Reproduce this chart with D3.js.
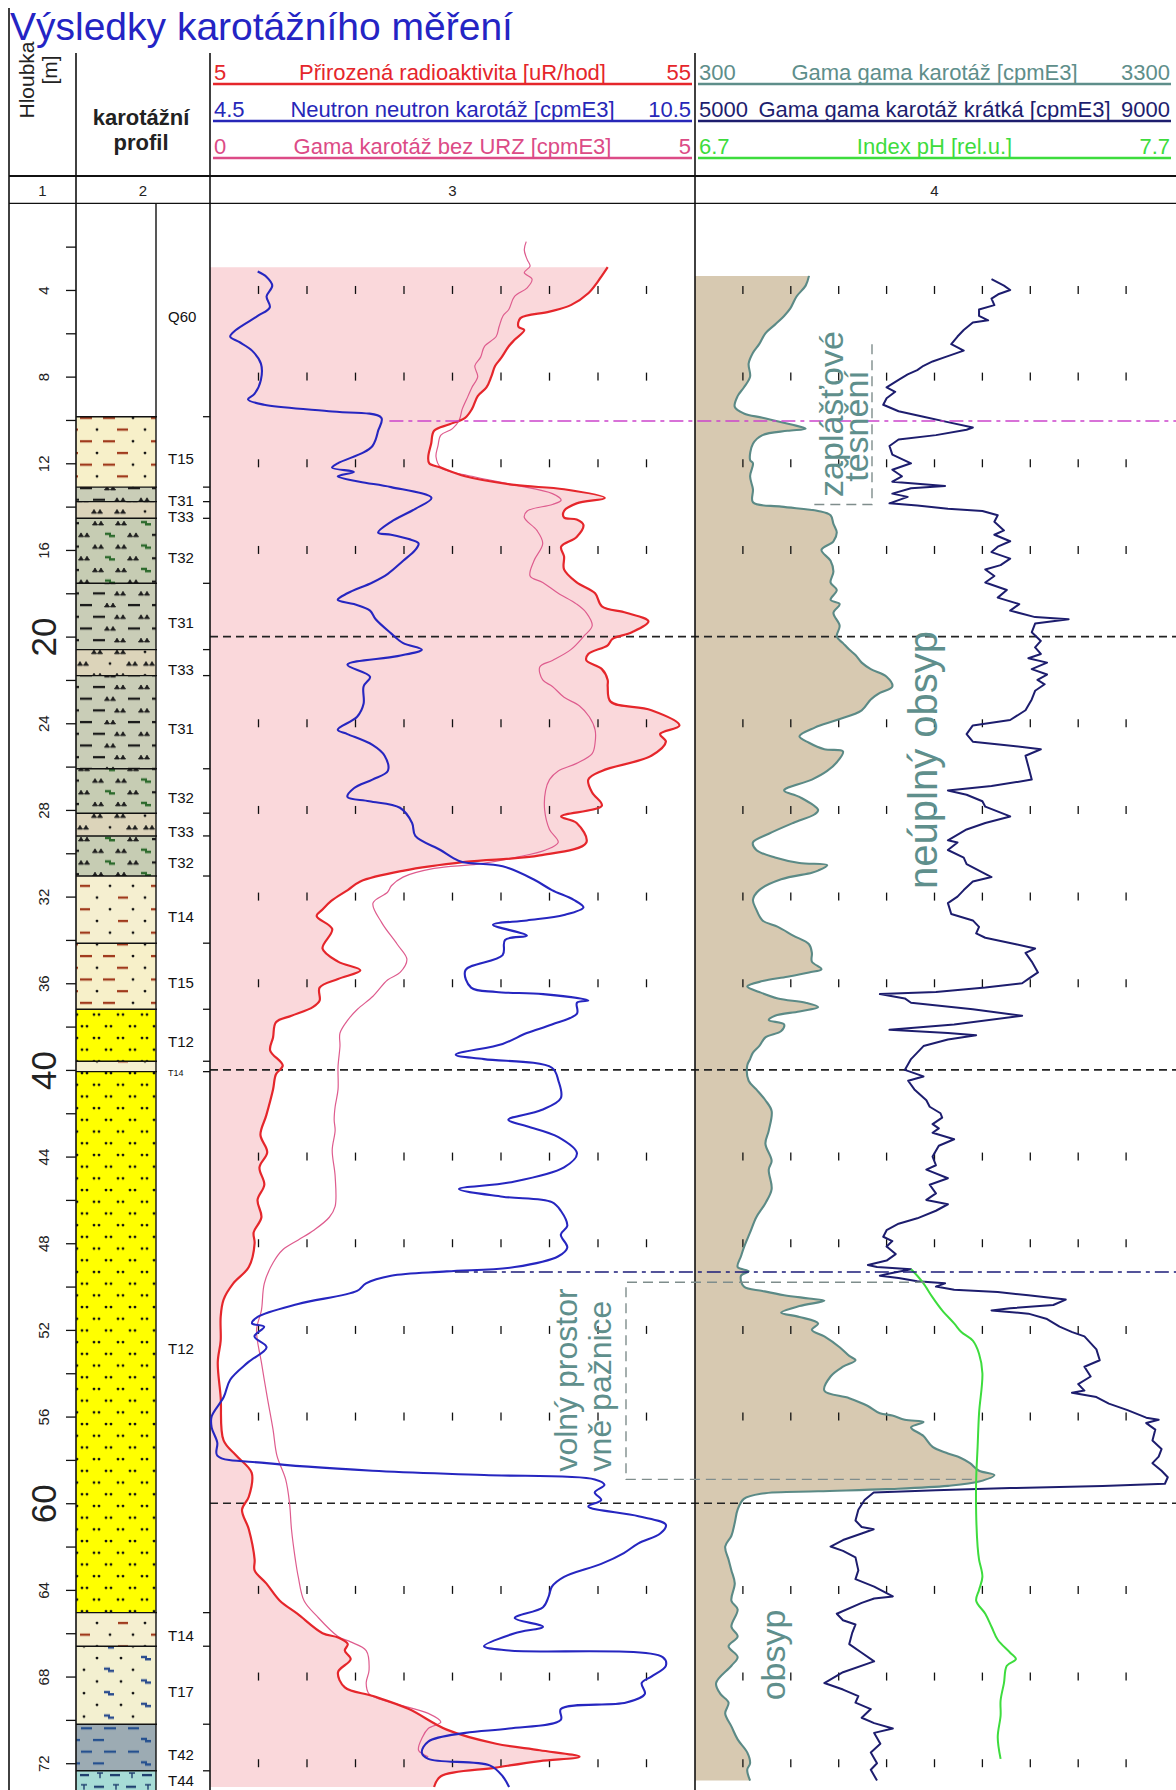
<!DOCTYPE html>
<html><head><meta charset="utf-8">
<script src="https://cdn.jsdelivr.net/npm/d3@7"></script>
<style>
body{margin:0;background:#fff}
svg{display:block}
text{font-family:"Liberation Sans",Arial,Helvetica,sans-serif}
</style>
</head><body>
<svg id="chart" width="1176" height="1790"></svg>
<script>
// ---------------- data ----------------
const depthTicks = d3.range(2, 73, 2);
const bigDepthLabels = [20, 40, 60];
const gridDepths = [4, 8, 12, 16, 24, 28, 32, 36, 44, 48, 52, 56, 64, 68, 72];
const markerDepths = [20, 40, 60];

// lithology column: layer tops, bases and codes
const lithTop  = [0, 9.85, 13.1, 13.77, 14.54, 17.54, 20.6, 21.8, 26.1, 28.15, 29.2, 31.05, 34.15, 37.2, 39.6, 40.08, 65.05, 66.6, 70.2, 72.35];
const lithBase = [9.85, 13.1, 13.77, 14.54, 17.54, 20.6, 21.8, 26.1, 28.15, 29.2, 31.05, 34.15, 37.2, 39.6, 40.08, 65.05, 66.6, 70.2, 72.35, 73.3];
const lithCode = ["Q60", "T15", "T31", "T33", "T32", "T31", "T33", "T31", "T32", "T33", "T32", "T14", "T15", "T12", "T14", "T12", "T14", "T17", "T42", "T44"];

// log scales shown in the header
const track3Logs = [
  {key: "radio",   label: "Přirozená radioaktivita [uR/hod]", min: 5,   max: 55,   color: "#e5262b"},
  {key: "neutron", label: "Neutron neutron karotáž [cpmE3]",  min: 4.5, max: 10.5, color: "#2727b8"},
  {key: "gamma",   label: "Gama karotáž bez URZ [cpmE3]",     min: 0,   max: 5,    color: "#dc4b86"}
];
const track4Logs = [
  {key: "gg",      label: "Gama gama karotáž [cpmE3]",        min: 300,  max: 3300, color: "#5e8e8a"},
  {key: "ggs",     label: "Gama gama karotáž krátká [cpmE3]", min: 5000, max: 9000, color: "#1d1d6e"},
  {key: "ph",      label: "Index pH [rel.u.]",                min: 6.7,  max: 7.7,  color: "#3ddc3d"}
];

// [depth m, value]
const radioactivity = [[2.95,46.0],[3.6,45.0],[4.15,44.0],[4.7,42.2],[5.0,40.0],[5.3,37.0],[5.7,36.8],[5.85,37.4],[6.3,36.4],[6.6,35.8],[7.15,35.0],[7.5,34.4],[8.0,34.0],[8.5,33.5],[8.9,32.6],[9.5,32.0],[9.9,31.3],[10.2,29.7],[10.5,28.1],[11.1,27.8],[11.7,27.5],[12.0,27.6],[12.2,28.8],[12.6,31.3],[13.0,36.4],[13.2,41.5],[13.6,45.7],[13.85,42.8],[14.2,41.5],[14.5,41.5],[14.6,42.8],[14.85,43.5],[15.4,42.8],[15.85,41.2],[16.3,41.5],[16.9,41.5],[17.5,42.8],[18.0,44.7],[18.6,45.4],[18.9,47.9],[19.3,50.2],[19.8,48.5],[20.1,46.5],[20.4,46.0],[20.8,44.0],[21.1,43.8],[21.5,45.4],[22.0,46.0],[22.3,46.0],[23.0,46.3],[23.4,50.5],[24.1,53.4],[24.5,51.4],[24.85,52.0],[25.5,50.5],[26.2,45.4],[26.6,44.0],[27.2,44.4],[27.8,45.4],[28.3,41.2],[28.6,42.8],[29.5,43.8],[30.1,39.0],[30.4,31.3],[30.8,25.0],[31.3,20.5],[31.7,19.2],[32.2,17.5],[32.6,16.6],[32.9,16.0],[33.5,17.6],[34.4,16.6],[35.0,18.2],[35.4,20.5],[35.8,18.2],[36.2,16.3],[36.8,16.3],[37.1,15.6],[37.5,13.4],[37.8,11.8],[38.5,11.5],[39.1,11.2],[39.8,12.5],[40.2,11.8],[40.9,11.5],[42.1,10.8],[43.0,10.2],[43.8,10.9],[44.5,10.1],[45.3,10.6],[46.0,9.9],[46.8,10.3],[47.5,9.5],[48.0,9.6],[49.1,9.0],[49.85,7.4],[50.6,6.4],[51.4,6.1],[52.5,6.1],[53.5,5.8],[55.1,6.1],[57.1,6.4],[57.8,7.7],[58.6,9.3],[59.7,9.0],[60.3,8.3],[61.2,9.0],[62.6,9.6],[63.1,9.6],[63.7,10.8],[64.5,12.2],[65.1,14.0],[66.0,16.6],[66.2,18.2],[66.5,19.2],[66.8,18.9],[67.2,19.5],[67.8,18.2],[68.5,18.9],[68.9,21.8],[69.5,25.5],[70.45,29.4],[71.1,34.5],[71.4,39.0],[71.7,43.1],[71.9,39.0],[72.2,34.5],[72.6,28.8],[73.1,28.1]];

const neutron = [[3.15,5.09],[3.4,5.20],[3.8,5.27],[4.3,5.20],[4.8,5.24],[5.2,5.09],[5.85,4.82],[6.15,4.75],[6.4,4.86],[6.8,5.02],[7.4,5.13],[8.15,5.13],[8.8,5.05],[9.05,4.97],[9.3,5.17],[9.6,5.97],[9.9,6.62],[10.5,6.58],[10.9,6.55],[11.2,6.51],[11.5,6.40],[12.0,6.08],[12.2,6.01],[12.4,6.28],[12.6,6.08],[12.85,6.35],[13.1,6.74],[13.6,7.24],[14.1,7.04],[14.7,6.74],[15.2,6.58],[15.3,6.74],[15.5,6.96],[15.7,7.08],[16.0,7.04],[16.5,6.89],[17.1,6.70],[17.5,6.51],[18.0,6.20],[18.3,6.08],[18.5,6.28],[18.8,6.48],[19.2,6.55],[19.85,6.74],[20.3,6.89],[20.6,7.12],[20.9,6.82],[21.3,6.20],[21.85,6.48],[22.3,6.40],[23.1,6.40],[23.7,6.32],[24.3,6.08],[24.5,6.20],[25.0,6.51],[25.5,6.66],[26.2,6.70],[26.6,6.51],[27.0,6.28],[27.4,6.20],[27.6,6.47],[27.9,6.85],[28.6,7.00],[29.2,7.04],[29.85,7.35],[30.2,7.50],[30.4,7.62],[30.6,8.12],[31.2,8.50],[31.7,8.73],[32.15,9.00],[32.5,9.12],[32.85,8.88],[33.1,8.42],[33.3,8.00],[33.8,8.42],[34.0,8.15],[34.7,8.12],[35.4,7.66],[36.2,7.73],[36.4,8.04],[36.5,8.62],[36.8,9.18],[36.9,9.04],[37.4,9.04],[37.9,8.73],[38.3,8.42],[38.8,8.12],[39.3,7.54],[39.5,7.89],[39.9,8.73],[40.5,8.81],[41.3,8.84],[41.85,8.60],[42.3,8.19],[42.6,8.42],[43.1,8.81],[43.85,9.04],[44.5,8.88],[45.2,8.20],[45.5,7.58],[45.85,8.12],[46.1,8.73],[46.5,8.84],[47.2,8.92],[47.6,8.84],[48.2,8.92],[48.6,8.81],[49.1,8.27],[49.3,7.43],[49.5,6.74],[49.85,6.43],[50.2,6.32],[50.8,5.59],[51.4,5.09],[51.7,5.02],[51.85,5.17],[52.3,5.05],[52.8,5.20],[53.5,4.97],[54.3,4.75],[55.1,4.67],[56.0,4.52],[56.5,4.52],[57.2,4.59],[57.8,4.59],[58.15,5.20],[58.5,6.51],[58.7,7.89],[58.9,9.26],[59.15,9.38],[59.5,9.26],[59.85,9.34],[60.15,9.18],[60.6,9.80],[61.0,10.14],[61.4,10.07],[61.85,9.80],[62.3,9.62],[62.8,9.34],[63.4,8.88],[63.85,8.73],[64.3,8.69],[64.8,8.62],[65.3,8.27],[65.7,8.62],[66.0,8.27],[66.6,7.89],[66.8,8.20],[67.1,10.10],[67.5,10.14],[68.0,9.96],[68.3,9.84],[68.8,9.88],[69.2,9.65],[69.5,8.84],[70.0,8.84],[70.4,8.20],[70.6,7.66],[71.0,7.20],[71.5,7.12],[71.8,7.20],[72.1,7.96],[72.6,8.12],[73.1,8.20]];

const gammaNoURZ = [[1.77,3.26],[2.15,3.24],[2.6,3.27],[2.9,3.30],[3.2,3.24],[3.5,3.32],[3.9,3.27],[4.3,3.14],[4.9,3.08],[5.2,3.02],[5.7,2.98],[6.15,2.95],[6.6,2.83],[7.1,2.79],[7.5,2.73],[8.0,2.76],[8.5,2.70],[8.9,2.66],[9.5,2.60],[10.0,2.57],[10.4,2.50],[10.7,2.38],[11.2,2.35],[11.7,2.33],[12.2,2.38],[12.6,2.70],[13.0,3.14],[13.4,3.53],[13.7,3.62],[13.9,3.53],[14.2,3.27],[14.5,3.24],[15.1,3.37],[15.7,3.43],[16.5,3.34],[17.2,3.30],[17.5,3.43],[18.0,3.59],[18.5,3.78],[18.9,3.88],[19.5,3.94],[20.0,3.85],[20.6,3.72],[21.1,3.53],[21.4,3.40],[22.0,3.43],[22.3,3.53],[22.8,3.65],[23.2,3.81],[23.7,3.91],[24.3,3.97],[24.9,3.97],[25.4,3.94],[25.85,3.78],[26.2,3.59],[26.6,3.50],[27.1,3.46],[28.0,3.45],[28.9,3.50],[29.5,3.59],[29.85,3.46],[30.2,3.14],[30.5,2.76],[30.7,2.31],[31.1,1.99],[31.5,1.87],[31.8,1.83],[32.3,1.68],[33.2,1.77],[34.2,1.93],[34.9,2.03],[35.5,1.96],[35.85,1.83],[36.6,1.68],[37.2,1.52],[37.7,1.42],[38.3,1.34],[38.9,1.34],[39.85,1.32],[40.9,1.32],[41.7,1.29],[42.3,1.28],[42.8,1.29],[43.7,1.26],[44.9,1.29],[46.3,1.29],[46.8,1.23],[47.4,1.07],[47.85,0.91],[48.3,0.75],[48.9,0.65],[49.85,0.56],[51.1,0.53],[52.0,0.48],[53.5,0.53],[55.1,0.59],[56.6,0.65],[57.8,0.69],[58.9,0.78],[60.0,0.82],[61.2,0.84],[62.6,0.88],[63.4,0.91],[64.5,0.97],[65.2,1.10],[66.15,1.32],[66.4,1.45],[66.8,1.61],[67.7,1.64],[68.3,1.61],[68.8,1.64],[69.2,1.87],[69.7,2.25],[70.1,2.38],[70.4,2.25],[70.8,2.19],[71.4,2.15],[71.7,2.25]];

const gammaGamma = [[3.35,1014],[3.8,993],[4.3,936],[4.85,897],[5.2,858],[5.6,801],[6.0,741],[6.5,702],[6.9,663],[7.4,636],[8.0,645],[8.5,606],[8.9,567],[9.4,549],[9.7,606],[9.9,723],[10.2,897],[10.4,993],[10.5,879],[10.7,723],[11.1,663],[11.85,645],[12.0,663],[12.6,645],[13.2,663],[13.8,663],[14.0,840],[14.2,1071],[14.4,1149],[14.8,1167],[15.2,1188],[15.6,1167],[16.0,1092],[16.5,1149],[17.0,1167],[17.5,1149],[17.85,1188],[18.3,1149],[18.5,1206],[18.9,1167],[19.5,1206],[20.0,1188],[20.3,1227],[20.6,1266],[20.85,1305],[21.2,1344],[21.5,1401],[21.85,1500],[22.3,1536],[22.6,1458],[22.9,1401],[23.4,1344],[23.85,1188],[24.2,1050],[24.6,954],[24.9,1014],[25.2,1110],[25.3,1227],[25.8,1188],[26.2,1128],[26.6,1032],[27.1,858],[27.4,954],[28.0,1071],[28.2,1050],[28.6,915],[29.1,762],[29.5,663],[29.85,684],[30.2,801],[30.45,954],[30.55,1128],[30.8,1071],[30.9,1032],[31.2,840],[31.7,702],[32.15,663],[32.6,684],[33.1,723],[33.4,819],[33.8,915],[34.2,1014],[34.6,1032],[35.0,1032],[35.35,1092],[35.5,1014],[35.7,879],[35.9,723],[36.15,627],[36.4,702],[36.7,819],[36.9,993],[37.1,1071],[37.3,954],[37.5,801],[37.7,762],[37.9,858],[38.2,840],[38.5,741],[38.9,702],[39.2,663],[39.5,645],[39.8,627],[40.5,636],[40.9,684],[41.4,741],[41.9,780],[42.8,762],[43.4,741],[44.2,780],[44.6,762],[45.5,780],[46.15,741],[46.8,684],[47.5,645],[48.2,606],[48.6,588],[49.1,567],[49.3,636],[49.5,588],[50.0,606],[50.2,723],[50.4,858],[50.55,1014],[50.65,1110],[50.9,954],[51.2,840],[51.4,954],[51.7,1071],[52.0,1032],[52.3,1110],[52.8,1206],[53.2,1266],[53.4,1305],[53.7,1227],[54.15,1149],[54.8,1110],[55.15,1266],[55.5,1380],[55.85,1458],[55.95,1536],[56.15,1614],[56.25,1731],[56.5,1653],[56.9,1731],[57.4,1788],[57.7,1884],[57.9,1962],[58.15,2022],[58.5,2079],[58.7,2175],[59.0,2079],[59.2,1884],[59.35,1500],[59.45,1071],[59.55,723],[59.8,606],[60.3,567],[60.9,549],[61.5,528],[62.0,489],[62.6,510],[63.1,528],[63.7,549],[64.5,528],[64.9,567],[65.7,528],[66.15,567],[66.6,510],[67.1,567],[67.5,528],[68.3,432],[68.8,459],[69.2,510],[69.7,489],[70.3,528],[70.9,567],[71.5,627],[72.0,645],[72.3,627],[72.8,645]];

const gammaGammaShort = [[3.5,7476],[3.8,7580],[4.0,7632],[4.2,7532],[4.4,7476],[4.7,7500],[4.9,7372],[5.2,7372],[5.4,7448],[5.5,7320],[5.85,7244],[6.15,7192],[6.5,7140],[6.8,7244],[7.1,7088],[7.3,6984],[7.5,6908],[7.7,6856],[7.9,6776],[8.15,6700],[8.5,6600],[8.7,6672],[9.0,6600],[9.3,6572],[9.6,6700],[9.85,6908],[10.1,7112],[10.35,7320],[10.45,7268],[10.7,7012],[10.9,6700],[11.2,6624],[11.6,6648],[12.0,6804],[12.3,6648],[12.6,6728],[12.85,6648],[12.95,6856],[13.05,7088],[13.15,6804],[13.4,6648],[13.55,6776],[13.85,6624],[13.95,6856],[14.1,7112],[14.2,7400],[14.4,7528],[14.7,7500],[15.1,7580],[15.3,7500],[15.6,7632],[15.85,7528],[16.1,7476],[16.4,7632],[16.7,7552],[16.9,7424],[17.2,7500],[17.5,7424],[17.85,7604],[18.2,7528],[18.5,7708],[18.8,7632],[19.1,7840],[19.2,8120],[19.4,7840],[19.8,7812],[20.2,7888],[20.5,7840],[20.8,7888],[21.0,7784],[21.2,7940],[21.5,7812],[21.75,7940],[22.0,7860],[22.2,7920],[22.5,7840],[22.9,7812],[23.4,7760],[23.85,7632],[24.1,7320],[24.5,7268],[24.85,7320],[25.0,7580],[25.2,7888],[25.5,7760],[26.0,7784],[26.6,7812],[26.9,7476],[27.1,7112],[27.3,7268],[27.6,7400],[27.85,7424],[28.3,7632],[28.6,7424],[28.9,7268],[29.4,7112],[29.5,7192],[29.85,7112],[30.2,7244],[30.5,7268],[30.8,7372],[31.1,7476],[31.3,7320],[31.7,7244],[32.0,7192],[32.3,7112],[32.8,7140],[33.1,7320],[33.4,7372],[33.7,7348],[33.9,7424],[34.2,7680],[34.4,7840],[34.6,7760],[35.0,7812],[35.5,7864],[35.8,7784],[36.0,7732],[36.2,7424],[36.4,7012],[36.5,6544],[36.7,6752],[36.9,6804],[37.2,7320],[37.5,7732],[37.9,7164],[38.15,6624],[38.3,7112],[38.4,7348],[38.6,7112],[38.9,6908],[39.2,6856],[39.5,6804],[40.0,6752],[40.3,6908],[40.5,6780],[40.9,6832],[41.4,6932],[41.7,6960],[42.0,7050],[42.2,7064],[42.5,6984],[42.7,7036],[42.9,6984],[43.2,7164],[43.5,7036],[44.0,6984],[44.4,7012],[44.6,6932],[45.0,7112],[45.3,6960],[45.7,7012],[46.0,6932],[46.2,7112],[46.5,7012],[46.85,6856],[47.1,6700],[47.4,6600],[47.7,6572],[47.9,6648],[48.15,6600],[48.5,6676],[48.8,6600],[49.0,6444],[49.1,6520],[49.2,6804],[49.4,6624],[49.5,6544],[49.6,6700],[49.75,6856],[49.85,7088],[50.0,7012],[50.15,7164],[50.25,7528],[50.4,7784],[50.6,8096],[50.85,7992],[51.0,7632],[51.1,7476],[51.25,7784],[51.5,7940],[51.85,8044],[52.1,8150],[52.3,8252],[52.9,8352],[53.4,8380],[53.7,8252],[54.15,8304],[54.5,8200],[54.8,8252],[54.9,8148],[55.1,8352],[55.4,8456],[55.7,8612],[56.05,8768],[56.15,8872],[56.3,8768],[56.6,8844],[57.1,8820],[57.5,8896],[57.85,8872],[58.15,8820],[58.5,8896],[58.8,8948],[59.1,8924],[59.2,8404],[59.3,7632],[59.4,7012],[59.5,6492],[59.85,6416],[60.3,6364],[60.8,6340],[61.1,6392],[61.2,6492],[61.4,6392],[61.7,6236],[62.0,6132],[62.2,6236],[62.5,6340],[63.1,6364],[63.5,6340],[63.85,6496],[64.3,6652],[64.4,6496],[64.6,6392],[65.1,6184],[65.4,6236],[65.6,6340],[66.0,6312],[66.5,6288],[66.9,6392],[67.3,6496],[67.8,6236],[68.3,6080],[68.6,6236],[68.9,6364],[69.2,6340],[69.5,6468],[69.9,6392],[70.15,6496],[70.4,6652],[70.6,6496],[71.1,6548],[71.5,6468],[72.0,6520],[72.3,6468],[72.8,6520]];

const phIndex = [[49.2,7.151],[49.5,7.164],[49.85,7.177],[50.5,7.196],[51.1,7.216],[51.7,7.241],[52.1,7.256],[52.5,7.280],[53.1,7.293],[54.0,7.300],[55.85,7.293],[57.4,7.290],[58.9,7.287],[60.5,7.287],[62.0,7.290],[62.6,7.293],[63.4,7.300],[64.0,7.293],[64.5,7.287],[65.1,7.306],[65.7,7.319],[66.3,7.332],[66.9,7.358],[67.2,7.370],[67.5,7.351],[68.3,7.345],[69.1,7.338],[69.8,7.338],[70.8,7.332],[71.8,7.338]];

// depths of the interpretation marker lines
const cementTopDepth = 10.05;   // magenta dash-dot
const gravelTopDepth = 49.33;   // navy dash-dot

// ---------------- layout ----------------
const svg = d3.select("#chart");
const FONT = '"Liberation Sans", Arial, Helvetica, sans-serif';
const X = {left: 9, col1: 76, lith: 156, col2: 210, col3: 695, right: 1174};
const yS = d3.scaleLinear().domain([0, 73.25]).range([203.3, 1790.3]);

const scaleFor = (log, track) => d3.scaleLinear().domain([log.min, log.max])
  .range(track === 3 ? [X.col2, X.col3] : [X.col3, X.right]);
const sc = {};
track3Logs.forEach(l => sc[l.key] = scaleFor(l, 3));
track4Logs.forEach(l => sc[l.key] = scaleFor(l, 4));

// ---------------- lithology patterns ----------------
const defs = svg.append("defs");
const ROW = 11.7;
const patterns = {
  T15: {bg: "#f7f0c9", rows: [
    [["d",4,16,"#a03a1c"],["d",27,39,"#a03a1c"],["o",57],["d",75,81,"#a03a1c"]],
    [["o",21],["d",41,52,"#a03a1c"],["o",69],["d",-1,2,"#a03a1c"]]]},
  T14: {bg: "#f5efd0", rows: [
    [["d",4,14,"#a03a1c"],["o",34],["o",57],["d",75,81,"#a03a1c"]],
    [["o",21],["d",42,52,"#a03a1c"],["o",69]]]},
  T31: {bg: "#c9cdb7", rows: [
    [["d",4,16,"#1a1a1a"],["g",34],["d",52,64,"#1a1a1a"],["d",76,81,"#1a1a1a"]],
    [["d",-1,3,"#1a1a1a"],["d",17,29,"#1a1a1a"],["g",44],["g",68]]]},
  T32: {bg: "#c6ccb3", rows: [
    [["g",8],["b",34,"#2c6a2c"],["g",57],["d",76,81,"#1a1a1a"]],
    [["d",-1,3,"#1a1a1a"],["g",22],["g",45],["b",70,"#2c6a2c"]]]},
  T33: {bg: "#dcd4ba", rows: [
    [["g",21],["g",44],["o",69]],
    [["g",7],["o",34],["g",56],["g",73]]]},
  T12: {bg: "#ffff00", rows: [
    [["o",6],["o",11],["o",30],["o",35],["o",54],["o",59],["o",78]],
    [["o",1],["o",18],["o",23],["o",42],["o",47],["o",66],["o",71]]]},
  T17: {bg: "#f3f0d0", rows: [
    [["o",21],["o",45],["b",70,"#2b4d8f"]],
    [["o",8],["b",33,"#2b4d8f"],["o",57]]]},
  T42: {bg: "#9cabb3", rows: [
    [["d",5,16,"#25508f"],["d",28,40,"#25508f"],["d",52,63,"#25508f"]],
    [["d",-1,4,"#25508f"],["d",17,28,"#25508f"],["b",70,"#25508f"]]]},
  T44: {bg: "#a7dcd6", rows: [
    [["d",4,13,"#1f3f6f"],["t",24],["d",34,44,"#1f3f6f"],["t",56],["d",66,76,"#1f3f6f"]],
    [["t",8],["d",18,28,"#1f3f6f"],["t",40],["d",50,60,"#1f3f6f"],["t",72]]]}
};

Object.entries(patterns).forEach(([code, p]) => {
  const pat = defs.append("pattern").attr("id", "lith-" + code)
    .attr("patternUnits", "userSpaceOnUse")
    .attr("x", X.col1).attr("y", yS(0))
    .attr("width", X.lith - X.col1).attr("height", ROW * 2);
  pat.append("rect").attr("width", X.lith - X.col1).attr("height", ROW * 2).attr("fill", p.bg);
  p.rows.forEach((row, ri) => {
    const yy = 4 + ri * ROW;
    row.forEach(it => {
      const [kind, a, b, c] = it;
      if (kind === "d") {
        pat.append("line").attr("x1", a).attr("x2", b).attr("y1", yy).attr("y2", yy)
          .attr("stroke", c).attr("stroke-width", 2.3);
      } else if (kind === "o") {
        pat.append("circle").attr("cx", a).attr("cy", yy).attr("r", 1.4).attr("fill", "#111");
      } else if (kind === "g") {
        pat.append("path")
          .attr("d", `M${a-5},${yy+1.6}L${a-3},${yy-2}L${a-1},${yy+1.6}ZM${a+1},${yy+1.6}L${a+3},${yy-2}L${a+5},${yy+1.6}ZM${a-6},${yy+1.6}H${a+6}`)
          .attr("fill", "#1a1a1a").attr("stroke", "#1a1a1a").attr("stroke-width", 0.9);
      } else if (kind === "b") {
        pat.append("path")
          .attr("d", `M${a-5},${yy-2.2}H${a+1}V${yy}H${a+5}V${yy+2.4}H${a-1}V${yy+0.2}H${a-5}Z`)
          .attr("fill", b);
      } else if (kind === "t") {
        pat.append("path").attr("d", `M${a-3},${yy-2}H${a+3}M${a},${yy-2}V${yy+3}`)
          .attr("stroke", "#1f3f6f").attr("stroke-width", 1.4).attr("fill", "none");
      }
    });
  });
});

const layers = lithCode.map((code, i) => ({code, top: lithTop[i], base: lithBase[i]}));

const lith = svg.append("g");
lith.selectAll("rect").data(layers.filter(l => patterns[l.code])).join("rect")
  .attr("x", X.col1).attr("width", X.lith - X.col1)
  .attr("y", d => yS(d.top)).attr("height", d => yS(d.base) - yS(d.top))
  .attr("fill", d => `url(#lith-${d.code})`);
lith.selectAll("line.bnd").data(layers.slice(1)).join("line").attr("class", "bnd")
  .attr("x1", X.col1).attr("x2", X.lith + 1)
  .attr("y1", d => yS(d.top)).attr("y2", d => yS(d.top))
  .attr("stroke", "#111").attr("stroke-width", 1.4);
lith.selectAll("line.btk").data(layers.slice(1)).join("line").attr("class", "btk")
  .attr("x1", X.col2 - 7).attr("x2", X.col2)
  .attr("y1", d => yS(d.top)).attr("y2", d => yS(d.top))
  .attr("stroke", "#111").attr("stroke-width", 1.3);
lith.selectAll("text").data(layers).join("text")
  .attr("x", 168).attr("y", d => Math.min(yS((d.top + d.base) / 2) + 6.5, 1780))
  .attr("dominant-baseline", "central")
  .attr("font-size", d => (d.base - d.top) < 0.6 ? 9 : 15)
  .attr("fill", "#111").text(d => d.code);

// ---------------- fills ----------------
const areaFill = (data, s, x0) => d3.area().curve(d3.curveCatmullRom.alpha(0.5))
  .y(d => yS(d[0])).x0(x0).x1(d => s(d[1]))(data);
svg.append("path").attr("d", areaFill(radioactivity, sc.radio, X.col2)).attr("fill", "#fad8db");
svg.append("path").attr("d", areaFill(gammaGamma, sc.gg, X.col3)).attr("fill", "#d7c9b1");

// ---------------- grid ticks ----------------
const gridG = svg.append("g").attr("stroke", "#111").attr("stroke-width", 1.3);
[[X.col2, X.col3], [X.col3, X.right]].forEach(([a, b]) => {
  const xs = d3.range(1, 10).map(k => a + (b - a) * k / 10);
  gridDepths.forEach(dp => {
    xs.forEach(xx => gridG.append("line")
      .attr("x1", xx).attr("x2", xx).attr("y1", yS(dp) - 4).attr("y2", yS(dp) + 4));
  });
});

// depth markers every 20 m
svg.append("g").selectAll("line").data(markerDepths).join("line")
  .attr("x1", X.col2).attr("x2", 1176).attr("y1", d => yS(d)).attr("y2", d => yS(d))
  .attr("stroke", "#222").attr("stroke-width", 1.6).attr("stroke-dasharray", "8,5");

// ---------------- frame ----------------
const frame = svg.append("g").attr("stroke", "#111");
frame.append("line").attr("x1", X.left).attr("x2", X.left).attr("y1", 8).attr("y2", 1790).attr("stroke-width", 1.6);
[X.col1, X.col2, X.col3].forEach(xx => frame.append("line")
  .attr("x1", xx).attr("x2", xx).attr("y1", 53).attr("y2", 1790).attr("stroke-width", 1.6));
frame.append("line").attr("x1", X.lith).attr("x2", X.lith).attr("y1", yS(0)).attr("y2", 1790).attr("stroke-width", 1.4);
frame.append("line").attr("x1", X.left).attr("x2", 1176).attr("y1", 176).attr("y2", 176).attr("stroke-width", 2);
frame.append("line").attr("x1", X.left).attr("x2", 1176).attr("y1", yS(0)).attr("y2", yS(0)).attr("stroke-width", 1.2);

// ---------------- curves ----------------
const lineFor = (s, curve) => d3.line().curve(curve).y(d => yS(d[0])).x(d => s(d[1]));
const smooth = d3.curveCatmullRom.alpha(0.5);
const curves = svg.append("g").attr("fill", "none").attr("stroke-linejoin", "round");
curves.append("path").attr("d", lineFor(sc.gamma, smooth)(gammaNoURZ)).attr("stroke", "#de5c8e").attr("stroke-width", 1.2);
curves.append("path").attr("d", lineFor(sc.radio, smooth)(radioactivity)).attr("stroke", "#e5262b").attr("stroke-width", 2.2);
curves.append("path").attr("d", lineFor(sc.neutron, smooth)(neutron)).attr("stroke", "#2626c0").attr("stroke-width", 2.1);
curves.append("path").attr("d", lineFor(sc.gg, smooth)(gammaGamma)).attr("stroke", "#5b8a86").attr("stroke-width", 2.1);
curves.append("path").attr("d", lineFor(sc.ggs, d3.curveLinear)(gammaGammaShort)).attr("stroke", "#1d1d6e").attr("stroke-width", 2);
curves.append("path").attr("d", lineFor(sc.ph, smooth)(phIndex)).attr("stroke", "#3ddc3d").attr("stroke-width", 2);

// ---------------- interpretation marks ----------------
// marker lines start where they meet the neutron curve
const markerStart = dp => sc.neutron(neutron.reduce((a, b) => Math.abs(b[0] - dp) < Math.abs(a[0] - dp) ? b : a)[1]) + 8;
svg.append("line").attr("x1", markerStart(cementTopDepth)).attr("x2", 1176)
  .attr("y1", yS(cementTopDepth)).attr("y2", yS(cementTopDepth))
  .attr("stroke", "#cc44cc").attr("stroke-width", 1.6).attr("stroke-dasharray", "14,5,4,5");
svg.append("line").attr("x1", markerStart(gravelTopDepth)).attr("x2", 1176)
  .attr("y1", yS(gravelTopDepth)).attr("y2", yS(gravelTopDepth))
  .attr("stroke", "#1d1d7a").attr("stroke-width", 1.6).attr("stroke-dasharray", "14,5,4,5");

const boxG = svg.append("g").attr("stroke", "#7f8d8c").attr("stroke-width", 1.4)
  .attr("stroke-dasharray", "10,6").attr("fill", "none");
boxG.append("path").attr("d", `M872,${yS(6.5)}V${yS(13.9)}H809`);
boxG.append("path").attr("d", `M925,${yS(49.8)}H626V${yS(58.9)}H976`);

const noteColor = "#5f8f8c";
const note = (txt, x, y, size) => svg.append("text")
  .attr("transform", `translate(${x},${y}) rotate(-90)`)
  .attr("text-anchor", "middle").attr("dominant-baseline", "central")
  .attr("font-size", size).attr("fill", noteColor).text(txt);
note("zaplášťové", 831, 414, 34);
note("těsnění", 856, 426, 34);
note("neúplný obsyp", 923, 760, 40);
note("volný prostor", 566, 1380, 32);
note("vně pažnice", 600, 1386, 32);
note("obsyp", 773, 1655, 34);

// ---------------- depth axis ----------------
const axisG = svg.append("g").attr("transform", `translate(${X.col1},0)`)
  .call(d3.axisLeft(yS).tickValues(depthTicks).tickSize(10).tickFormat(d => d % 4 === 0 ? d : ""));
axisG.select(".domain").remove();
axisG.attr("font-family", FONT);
axisG.selectAll(".tick line").attr("stroke", "#111").attr("stroke-width", 1.3);
axisG.selectAll(".tick text")
  .attr("x", 0).attr("dy", null).attr("text-anchor", "middle").attr("dominant-baseline", "central")
  .attr("transform", "translate(-33,0) rotate(-90)")
  .attr("fill", "#222")
  .attr("font-size", d => bigDepthLabels.includes(d) ? 35 : 15);

// ---------------- header ----------------
svg.append("text").attr("x", 10).attr("y", 40).attr("font-size", 39).attr("fill", "#2424c4")
  .text("Výsledky karotážního měření");

const rowY = [84, 121, 158];
const header = (logs, a, b) => logs.forEach((l, i) => {
  const g = svg.append("g").attr("fill", l.color).attr("font-size", 22);
  g.append("text").attr("x", a + 4).attr("y", rowY[i] - 4).text(String(l.min));
  g.append("text").attr("x", (a + b) / 2).attr("y", rowY[i] - 4).attr("text-anchor", "middle").text(l.label);
  g.append("text").attr("x", b - 4).attr("y", rowY[i] - 4).attr("text-anchor", "end").text(String(l.max));
  g.append("line").attr("x1", a + 3).attr("x2", b - 3).attr("y1", rowY[i]).attr("y2", rowY[i])
    .attr("stroke", l.color).attr("stroke-width", 2.4);
});
header(track3Logs, X.col2, X.col3);
header(track4Logs, X.col3, X.right);

svg.append("text").attr("transform", "translate(26,80) rotate(-90)").attr("text-anchor", "middle")
  .attr("dominant-baseline", "central").attr("font-size", 21).attr("fill", "#222").text("Hloubka");
svg.append("text").attr("transform", "translate(49,70) rotate(-90)").attr("text-anchor", "middle")
  .attr("dominant-baseline", "central").attr("font-size", 21).attr("fill", "#222").text("[m]");
svg.append("text").attr("x", 141).attr("y", 125).attr("text-anchor", "middle").attr("font-size", 22)
  .attr("font-weight", "bold").attr("fill", "#222").text("karotážní");
svg.append("text").attr("x", 141).attr("y", 150).attr("text-anchor", "middle").attr("font-size", 22)
  .attr("font-weight", "bold").attr("fill", "#222").text("profil");

const colNums = [["1", (X.left + X.col1) / 2], ["2", (X.col1 + X.col2) / 2], ["3", (X.col2 + X.col3) / 2], ["4", (X.col3 + X.right) / 2]];
svg.append("g").selectAll("text").data(colNums).join("text")
  .attr("x", d => d[1]).attr("y", 190).attr("text-anchor", "middle").attr("dominant-baseline", "central")
  .attr("font-size", 15).attr("fill", "#222").text(d => d[0]);
</script>
</body></html>
